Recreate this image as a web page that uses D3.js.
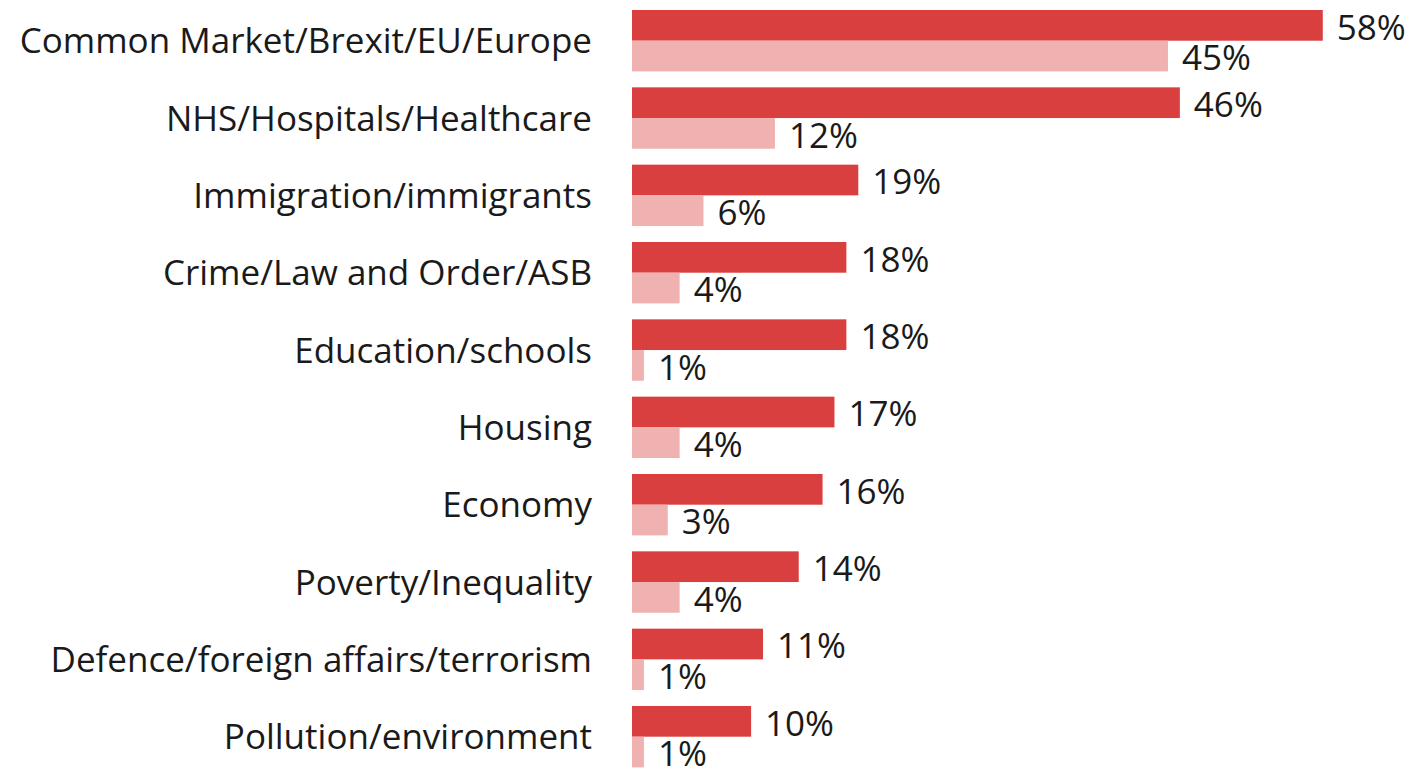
<!DOCTYPE html>
<html>
<head>
<meta charset="utf-8">
<script src="https://cdn.jsdelivr.net/npm/d3@7"></script>
<style>
  html, body { margin: 0; padding: 0; background: #fff; }
  svg { display: block; }
  text { font-family: "Open Sans", "Noto Sans", sans-serif; fill: #1a1a1a; }
</style>
</head>
<body>
<svg id="chart" width="1415" height="770"></svg>
<script>
const categories = [
  "Common Market/Brexit/EU/Europe",
  "NHS/Hospitals/Healthcare",
  "Immigration/immigrants",
  "Crime/Law and Order/ASB",
  "Education/schools",
  "Housing",
  "Economy",
  "Poverty/Inequality",
  "Defence/foreign affairs/terrorism",
  "Pollution/environment"
];
const seriesNames = ["any", "most"];
const valuesAny  = [58, 46, 19, 18, 18, 17, 16, 14, 11, 10];
const valuesMost = [45, 12, 6, 4, 1, 4, 3, 4, 1, 1];
const seriesColors = ["#d93f3e", "#f0b1b1"];

const svg = d3.select("#chart");
const data = categories.map((c, i) => ({ cat: c, vals: [valuesAny[i], valuesMost[i]] }));

const x = d3.scaleLinear().domain([0, 100]).range([632, 632 + 1191]);
const y = d3.scaleBand().domain(categories).range([10, 767.4]).paddingInner(0.206).paddingOuter(0);
const ySub = d3.scaleBand().domain(seriesNames).range([0, y.bandwidth()]).padding(0);

const fs = 35;

const rows = svg.selectAll("g.row").data(data).join("g")
  .attr("class", "row")
  .attr("transform", d => `translate(0,${y(d.cat)})`);

rows.append("text")
  .attr("x", 592)
  .attr("y", y.bandwidth() / 2)
  .attr("dy", "0.36em")
  .attr("text-anchor", "end")
  .style("font-size", fs + "px")
  .text(d => d.cat);

seriesNames.forEach((s, si) => {
  rows.append("rect")
    .attr("x", x(0))
    .attr("y", ySub(s))
    .attr("width", d => x(d.vals[si]) - x(0))
    .attr("height", ySub.bandwidth())
    .attr("fill", seriesColors[si]);
  rows.append("text")
    .attr("x", d => x(d.vals[si]) + 14)
    .attr("y", ySub(s) + ySub.bandwidth() - 1)
    .style("font-size", fs + "px")
    .text(d => d.vals[si] + "%");
});
</script>
</body>
</html>
